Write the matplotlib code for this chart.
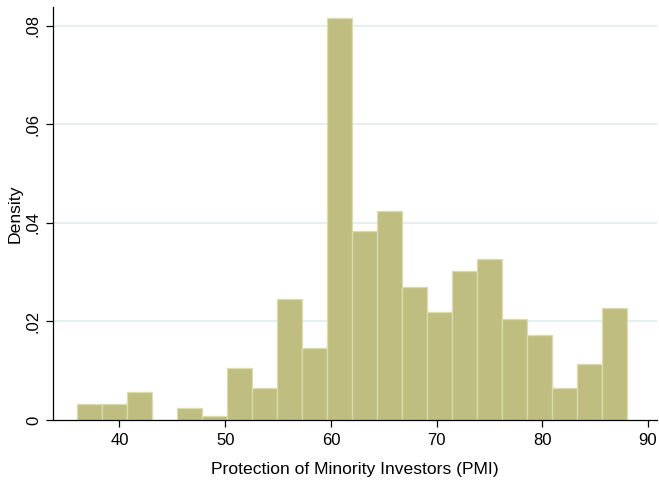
import numpy as np
import matplotlib.pyplot as plt

plt.rcParams['font.family'] = ['Liberation Sans', 'DejaVu Sans']

# histogram of PMI scores: 22 equal bins between 36 and 88
bin_lo, bin_hi, n_bins = 36, 88, 22
density = [0.0032, 0.0032, 0.0056, 0.0, 0.0024, 0.0008, 0.0105, 0.0065,
           0.0245, 0.0146, 0.0815, 0.0383, 0.0423, 0.0269, 0.0220, 0.0302,
           0.0326, 0.0204, 0.0172, 0.0065, 0.0114, 0.0228]
x_ticks = [40, 50, 60, 70, 80, 90]
y_ticks = [0, 0.02, 0.04, 0.06, 0.08]
y_labels = ['0', '.02', '.04', '.06', '.08']

edges = np.linspace(bin_lo, bin_hi, n_bins + 1)

fig = plt.figure(figsize=(6.59, 4.84), dpi=100)
ax = fig.add_axes([0.081, 0.132, 0.916, 0.853])

for y in y_ticks[1:]:
    ax.axhline(y, color='#e3eeee', lw=1.2, zorder=0)

ax.bar(edges[:-1], density, width=np.diff(edges), align='edge',
       color='#bfbe80', edgecolor='#dcdcae', linewidth=0.9, zorder=2)

ax.set_xlim(33.75, 90.85)
ax.set_ylim(0, 0.0837)
ax.set_xticks(x_ticks)
ax.set_yticks(y_ticks)
ax.set_yticklabels(y_labels, rotation=90, va='center')
ax.tick_params(labelsize=12, length=5, width=0.9, direction='out', pad=4)

for side in ['top', 'right']:
    ax.spines[side].set_visible(False)
for side in ['left', 'bottom']:
    ax.spines[side].set_linewidth(0.9)

ax.set_xlabel('Protection of Minority Investors (PMI)', fontsize=12.6, labelpad=10)
ax.set_ylabel('Density', fontsize=12.6, labelpad=2)

fig.savefig('out.png', dpi=100)
